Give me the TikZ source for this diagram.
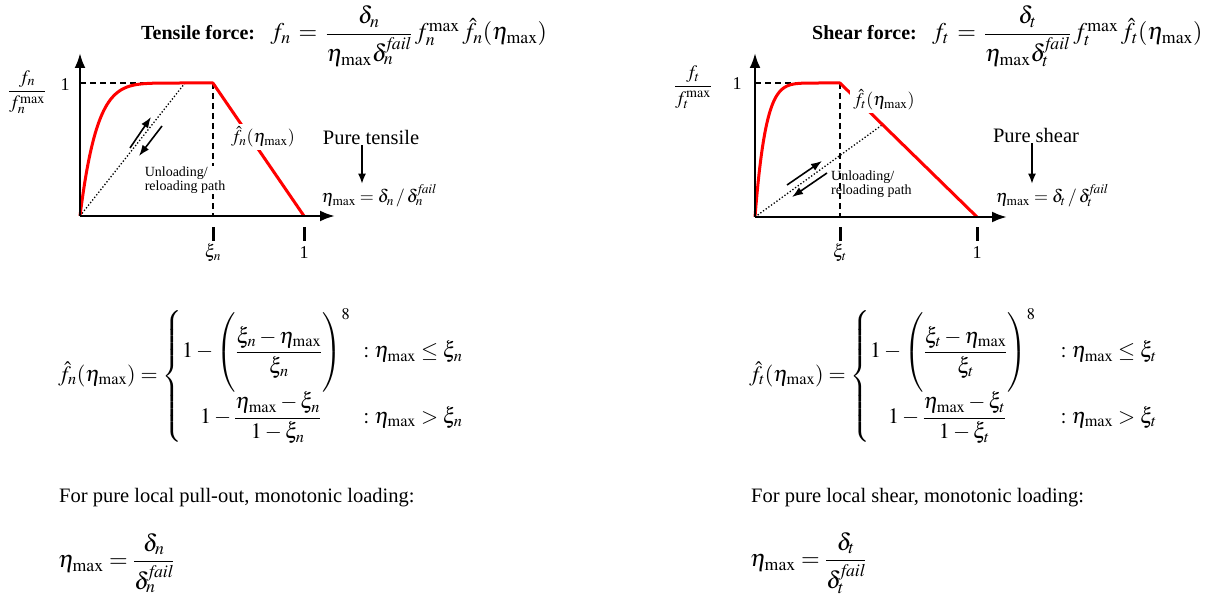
\documentclass[tikz,border=0pt]{standalone}
\usepackage{amsmath}
\usepackage{mathptmx}
\usepackage[no-math]{fontspec}
\setmainfont{Liberation Serif}
\usetikzlibrary{arrows.meta, positioning}

\newcommand{\txtbig}{\fontsize{20.5}{24}\selectfont}
\newcommand{\txtmid}{\fontsize{18}{21}\selectfont}
\newcommand{\txtsmall}{\fontsize{14}{14}\selectfont}
\newcommand{\parstrut}{\rule[-33pt]{0pt}{76pt}}

\begin{document}
\begin{tikzpicture}[
    x=1pt, y=-1pt,
    axis/.style={line width=2.6pt, -{Latex[length=15pt, width=11pt]}},
    curve/.style={draw=red, line width=3pt, line join=round},
    guide/.style={line width=1.4pt, dash pattern=on 6pt off 4pt},
    unload/.style={line width=1.3pt, dotted},
    axtick/.style={line width=3pt},
    path arrow/.style={line width=1.6pt, -{Latex[length=11pt, width=8pt]}},
    down arrow/.style={line width=1.2pt, -{Latex[length=10pt, width=8pt]}},
    lbl/.style={font=\txtmid, inner sep=1pt},
    note/.style={font=\txtsmall, align=left, inner sep=1pt},
    titletxt/.style={font=\bfseries\fontsize{20}{24}\selectfont, inner sep=0pt},
    eqn/.style={font=\fontsize{22}{26}\selectfont, inner sep=0pt},
    bigeqn/.style={font=\fontsize{24}{28}\selectfont, inner sep=0pt}
]
\useasboundingbox (0,0) rectangle (1225,596);

% ---- tensile: title
\node[titletxt, anchor=base west] (tenL) at (141,40) {Tensile force:};
\node[bigeqn, base right=15pt of tenL] (tenEq) {$f_n \,=\, \dfrac{\delta_n}{\eta_{\max}\delta_n^{\mathit{fail}}}\, f_n^{\max}\,\hat{f}_n(\eta_{\max})$};

% ---- tensile: graph
\coordinate (nO) at (80,216);
\draw[guide] (80,83) -- (213,83);
\draw[guide] (213,83) -- (213,216);
\draw[axtick] (213,227) -- (213,241);
\draw[axtick] (304,227) -- (304,241);
\draw[unload] (nO) -- (185,83);
\draw[curve] plot[domain=0:1, samples=80] ({80+133*\x}, {216-133*(1-(1-\x)^8)}) -- (304,216);
\draw[axis] (nO) -- (80,53);
\draw[axis] (nO) -- (335,216);

\node[lbl, fill=white, inner sep=3pt] (fnL) at (263,137) {$\hat{f}_n(\eta_{\max})$};
\node[note, fill=white] (ulL) at (185,180) {Unloading/\\reloading path};
\draw[path arrow] (130,148) -- (151,117);
\draw[path arrow] (162,126) -- (139,156);

\node[lbl] (oneyL) at (65,85) {1};
\node[lbl, font=\fontsize{19}{22}\selectfont] (yL) at (27,92) {$\dfrac{f_n}{f_n^{\max}}$};
\node[lbl] (xiL) at (213,253) {$\xi_n$};
\node[lbl] (onexL) at (304,253) {1};
\node[lbl, font=\txtbig] (ptL) at (371,137) {Pure tensile};
\node[lbl] (etaL) at (379,196) {$\eta_{\max} = \delta_n \,/\, \delta_n^{\mathit{fail}}$};
\draw[down arrow] ([xshift=-9pt]ptL.south) -- ([xshift=-17pt]etaL.north);

% ---- tensile: formulas
\node[eqn, anchor=west] (fhatL) at (58,376) {$\hat{f}_n(\eta_{\max}) = \left\{\begin{array}{@{}l@{\hspace{13pt}}l}
  1-\left(\parstrut\dfrac{\xi_n-\eta_{\max}}{\xi_n}\right)^{8} & :\eta_{\max}\le\xi_n \\[4pt]
  \hspace{18pt} 1-\dfrac{\eta_{\max}-\xi_n}{1-\xi_n} & :\eta_{\max}>\xi_n
  \end{array}\right.$};
\node[lbl, font=\txtbig, anchor=west] (forL) at (58,498) {For pure local pull-out, monotonic loading:};
\node[bigeqn, anchor=west] (etaeqL) at (58,563) {$\eta_{\max} = \dfrac{\delta_n}{\delta_n^{\mathit{fail}}}$};

% ---- shear: title
\node[titletxt, anchor=base west] (shL) at (812,40) {Shear force:};
\node[bigeqn, base right=15pt of shL] (shEq) {$f_t \,=\, \dfrac{\delta_t}{\eta_{\max}\delta_t^{\mathit{fail}}}\, f_t^{\max}\,\hat{f}_t(\eta_{\max})$};

% ---- shear: graph
\coordinate (tO) at (755,217);
\draw[guide] (755,83) -- (840,83);
\draw[guide] (840,83) -- (840,217);
\draw[axtick] (840,227) -- (840,241);
\draw[axtick] (977,227) -- (977,241);
\draw[unload] (tO) -- (882,125);
\draw[curve] plot[domain=0:1, samples=80] ({755+85*\x}, {217-134*(1-(1-\x)^8)}) -- (977,217);
\draw[axis] (tO) -- (755,53);
\draw[axis] (tO) -- (1007,217);

\node[lbl, fill=white, inner sep=3pt] (ftR) at (884,100) {$\hat{f}_t(\eta_{\max})$};
\node[note, anchor=west] (ulR) at (830,184) {Unloading/\\reloading path};
\draw[path arrow] (787,185) -- (822,161);
\draw[path arrow] (827,173) -- (792,197);

\node[lbl] (oneyR) at (737,84) {1};
\node[lbl, font=\fontsize{19}{22}\selectfont] (yR) at (693,87) {$\dfrac{f_t}{f_t^{\max}}$};
\node[lbl] (xiR) at (840,253) {$\xi_t$};
\node[lbl] (onexR) at (977,253) {1};
\node[lbl, font=\txtbig] (psR) at (1036,135) {Pure shear};
\node[lbl] (etaR) at (1052,196) {$\eta_{\max} = \delta_t \,/\, \delta_t^{\mathit{fail}}$};
\draw[down arrow] ([xshift=-4pt]psR.south) -- ([xshift=-20pt]etaR.north);

% ---- shear: formulas
\node[eqn, anchor=west] (fhatR) at (749,376) {$\hat{f}_t(\eta_{\max}) = \left\{\begin{array}{@{}l@{\hspace{25pt}}l}
  1-\left(\parstrut\dfrac{\xi_t-\eta_{\max}}{\xi_t}\right)^{8} & :\eta_{\max}\le\xi_t \\[4pt]
  \hspace{18pt} 1-\dfrac{\eta_{\max}-\xi_t}{1-\xi_t} & :\eta_{\max}>\xi_t
  \end{array}\right.$};
\node[lbl, font=\txtbig, anchor=west] (forR) at (750,498) {For pure local shear, monotonic loading:};
\node[bigeqn, anchor=west] (etaeqR) at (750,563) {$\eta_{\max} = \dfrac{\delta_t}{\delta_t^{\mathit{fail}}}$};
\end{tikzpicture}
\end{document}
